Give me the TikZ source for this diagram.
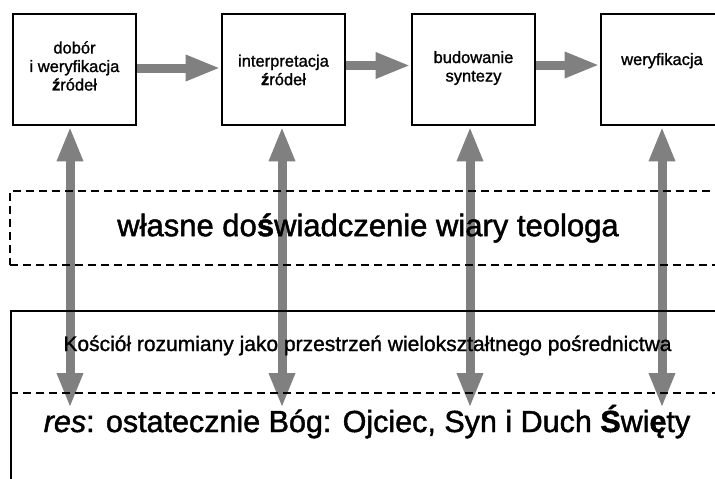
\documentclass[tikz,border=0pt]{standalone}
\usepackage{fontspec}
\setmainfont{Liberation Sans}
% heavier cuts of the same face for the labels
\newfontfamily\labelsans[FakeBold=1.5]{Liberation Sans}
\newfontfamily\smallsans[FakeBold=1.2]{Liberation Sans}
\usetikzlibrary{arrows.meta}
\definecolor{arrowgray}{RGB}{128,128,128}

\begin{document}
\begin{tikzpicture}[x=1pt,y=-1pt,
  stage/.style={draw=black, line width=2.8pt, minimum width=123pt,
    minimum height=111pt, inner sep=0pt},
  stagetext/.style={font=\smallsans\fontsize{16.5}{18.5}\selectfont, align=center,
    inner sep=0pt},
  flow/.style={draw=arrowgray, line width=9pt,
    -{Triangle[length=35pt,width=24pt]}},
  link/.style={draw=arrowgray, line width=9pt,
    {Triangle[length=35pt,width=24pt]}-{Triangle[length=35pt,width=24pt]}},
  dashframe/.style={draw=black, line width=2pt, dash pattern=on 8pt off 5pt},
]
% canvas
\useasboundingbox (0,0) rectangle (715,479);
\fill[white] (0,0) rectangle (715,479);
\clip (0,0) rectangle (715,479);

% stages of the work
\node[stage] (b1) at (74.5,69.5) {};
\node[stage] (b2) at (283.5,69.5) {};
\node[stage] (b3) at (473.5,69.5) {};
\node[stage] (b4) at (662.5,69.5) {};

\node[stagetext] (t1) at (74.5,66) {dobór\\i weryfikacja\\\textbf{ź}ródeł};
\node[stagetext] (t2) at (283.5,70) {interpretacja\\\textbf{ź}ródeł};
\node[stagetext] (t3) at (473.5,68) {budowanie\\syntezy};
\node[stagetext, anchor=base] (t4) at (662,65) {weryfikacja};

% flow between stages
\draw[flow] ([yshift=1.5pt]b1.east) -- ([yshift=1.5pt]b2.west);
\draw[flow] ([yshift=4pt]b2.east) -- ([yshift=4pt]b3.west);
\draw[flow] ([yshift=4.5pt]b3.east) -- ([yshift=4.5pt]b4.west);

% lower ends of the links
\coordinate (e1) at (70,408);
\coordinate (e2) at (282,408);
\coordinate (e3) at (470,408);
\coordinate (e4) at (662,408);

\draw[link] (e1 |- b1.south) -- (e1);
\draw[link] (e2 |- b2.south) -- (e2);
\draw[link] (e3 |- b3.south) -- (e3);
\draw[link] (e4 |- b4.south) -- (e4);

% layer of personal faith
\node[dashframe, minimum width=716pt, minimum height=74pt, inner sep=0pt,
  font=\labelsans\fontsize{31}{34}\selectfont] (faith) at (368,228)
  {własne do\textbf{ś}wiadczenie wiary teologa};

% the Church and the res
\node[draw=black, line width=2pt, minimum width=716pt, minimum height=200pt,
  anchor=north west, inner sep=0pt] (church) at (10,310) {};
\coordinate (divy) at (0,393);
\draw[dashframe, line width=1.6pt] (church.west |- divy) -- (church.east |- divy);

\node[anchor=base, inner sep=0pt, font=\smallsans\fontsize{21}{24}\selectfont] (medium) at (367.5,351)
  {Kościół rozumiany jako przestrzeń wielokształtnego pośrednictwa};
\node[anchor=base, inner sep=0pt, font=\labelsans\fontsize{30.5}{33}\selectfont] (res) at (367,432)
  {\textit{res}: ostatecznie Bóg: Ojciec, Syn i Duch \textbf{Ś}wi\textbf{ę}ty};
\end{tikzpicture}
\end{document}
